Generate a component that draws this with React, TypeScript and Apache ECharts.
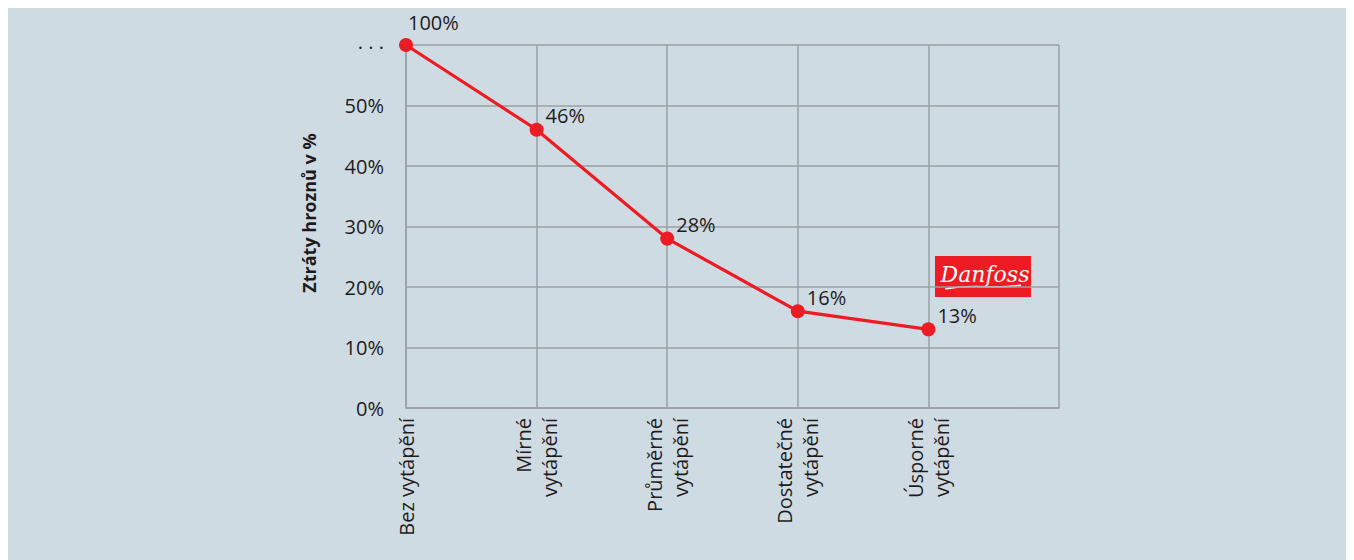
import React, { useEffect, useRef } from "react";
import * as echarts from "echarts";

const categories = [
  "Bez vytápění",
  "Mírné\nvytápění",
  "Průměrné\nvytápění",
  "Dostatečné\nvytápění",
  "Úsporné\nvytápění",
  "",
];
const losses = [100, 46, 28, 16, 13];
const yTicks = [0, 10, 20, 30, 40, 50, 60];
const axisTop = 60; // values above this are drawn at the broken top ("...")
const yTitle = "Ztráty hroznů v %";
const logoText = "Danfoss";

const FONT = "'Open Sans', 'Noto Sans', sans-serif";
const TXT = "#1f1b1c";
const GRID = "#9a9fa4";
const RED = "#ed1c24";

export default function App() {
  const ref = useRef<HTMLDivElement>(null);
  useEffect(() => {
    document.documentElement.style.overflow = "hidden";
    const chart = echarts.init(ref.current!, null, { renderer: "svg" });
    const data = losses.map((v, i) => ({
      value: Math.min(v, axisTop),
      raw: v,
      label: i === 0 ? { offset: [-7, -23] } : { offset: [0, -14] },
    }));
    chart.setOption({
      animation: false,
      backgroundColor: "#cfdbe3",
      textStyle: { fontFamily: FONT },
      grid: { left: 398, right: 295, top: 37, bottom: 152 },
      xAxis: {
        type: "category",
        data: categories,
        boundaryGap: false,
        axisLine: { lineStyle: { color: GRID, width: 1.5 } },
        axisTick: { show: false },
        splitLine: { show: true, lineStyle: { color: GRID, width: 1.5 } },
        axisLabel: {
          rotate: 90,
          margin: 10,
          interval: 0,
          fontSize: 20,
          lineHeight: 26,
          color: TXT,
          fontFamily: FONT,
        },
      },
      yAxis: {
        type: "value",
        min: yTicks[0],
        max: yTicks[yTicks.length - 1],
        interval: 10,
        axisLine: { show: true, lineStyle: { color: GRID, width: 1.5 } },
        axisTick: { show: false },
        splitLine: { show: true, lineStyle: { color: GRID, width: 1.5 } },
        axisLabel: {
          margin: 22,
          fontSize: 20,
          color: TXT,
          fontFamily: FONT,
          formatter: (v: number) => (v >= axisTop ? "{d|. . .}" : v + "%"),
          rich: { d: { fontSize: 20, color: TXT, padding: [0, 0, 8, 0] } },
        },
      },
      series: [
        {
          type: "line",
          data,
          symbol: "circle",
          symbolSize: 14,
          lineStyle: { color: RED, width: 3.2 },
          itemStyle: { color: RED },
          label: {
            show: true,
            position: "right",
            distance: 2,
            fontSize: 20,
            color: TXT,
            fontFamily: FONT,
            formatter: (p: any) => p.data.raw + "%",
          },
        },
      ],
      graphic: [
        {
          type: "text",
          x: 301,
          y: 205,
          rotation: Math.PI / 2,
          style: {
            text: yTitle,
            fontSize: 18,
            fontWeight: "bold",
            fontFamily: FONT,
            fill: TXT,
            align: "center",
            verticalAlign: "middle",
          },
        },
        {
          type: "group",
          x: 927,
          y: 248,
          children: [
            {
              type: "rect",
              shape: { x: 0, y: 0, width: 96, height: 41 },
              style: { fill: RED },
            },
            {
              type: "text",
              x: 50,
              y: 18,
              style: {
                text: logoText,
                fontSize: 22,
                fontStyle: "italic",
                fontFamily: "'DejaVu Serif', 'Liberation Serif', serif",
                fill: "#ffffff",
                align: "center",
                verticalAlign: "middle",
              },
            },
            {
              type: "bezierCurve",
              shape: { x1: 10, y1: 33, x2: 86, y2: 29, cpx1: 40, cpy1: 27, cpx2: 60, cpy2: 34 },
              style: { stroke: "#ffffff", lineWidth: 1.5, fill: "none" },
            },
          ],
        },
      ],
    });
    return () => chart.dispose();
  }, []);
  return <div ref={ref} style={{ width: "1346px", height: "552px" }} />;
}
